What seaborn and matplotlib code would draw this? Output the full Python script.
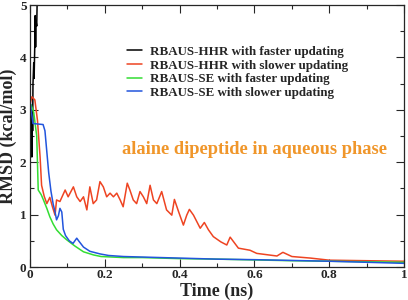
import numpy as np
import pandas as pd
import matplotlib
matplotlib.use('Agg')
import matplotlib.pyplot as plt
from matplotlib.ticker import MultipleLocator
import seaborn as sns

# RBAUS-HHR, faster updating (shoots off the top)
hhr_fast_t = [0.003, 0.004, 0.005, 0.006, 0.007, 0.008, 0.010, 0.011, 0.013, 0.014,
              0.015, 0.016, 0.018, 0.019, 0.021]
hhr_fast_y = [2.9, 2.5, 2.1, 3.0, 2.6, 3.5, 3.9, 3.6, 4.3, 4.8, 4.2, 4.7, 4.6, 5.0, 5.3]

# RBAUS-HHR, slower updating
hhr_slow_t = [0.0, 0.005, 0.013, 0.020, 0.027, 0.031, 0.038, 0.045, 0.053, 0.060, 0.067,
              0.071, 0.080, 0.094, 0.102, 0.116, 0.125, 0.134, 0.143, 0.152, 0.160,
              0.169, 0.178, 0.187, 0.196, 0.205, 0.214, 0.223, 0.232, 0.241, 0.249,
              0.260, 0.267, 0.276, 0.285, 0.294, 0.303, 0.312, 0.321, 0.330, 0.339,
              0.352, 0.365, 0.379, 0.386, 0.397, 0.410, 0.419, 0.426, 0.437, 0.455,
              0.466, 0.477, 0.490, 0.510, 0.526, 0.535, 0.557, 0.588, 0.606, 0.660,
              0.676, 0.700, 0.750, 0.775, 0.800, 0.900, 1.000]
hhr_slow_y = [3.1, 3.25, 3.19, 2.8, 2.1, 1.56, 1.35, 1.21, 1.33, 1.15, 0.99,
              1.28, 1.25, 1.47, 1.34, 1.53, 1.34, 1.25, 1.34, 1.09, 1.53,
              1.21, 1.28, 1.63, 1.53, 1.34, 1.41, 1.34, 1.41, 1.28, 1.15,
              1.60, 1.47, 1.28, 1.21, 1.44, 1.34, 1.21, 1.56, 1.28, 1.21,
              1.44, 1.09, 0.99, 1.29, 1.06, 0.80, 0.99, 1.10, 0.99, 0.74,
              0.85, 0.71, 0.58, 0.48, 0.42, 0.57, 0.36, 0.32, 0.26, 0.21,
              0.28, 0.20, 0.17, 0.15, 0.13, 0.12, 0.11]

# RBAUS-SE, faster updating
se_fast_t = [0.003, 0.010, 0.018, 0.022, 0.030, 0.036, 0.045, 0.053, 0.062, 0.071,
             0.085, 0.098, 0.120, 0.143, 0.170, 0.190, 0.250, 0.300, 0.400, 0.500,
             0.700, 1.000]
se_fast_y = [3.1, 2.95, 2.5, 1.47, 1.38, 1.28, 1.12, 0.96, 0.82, 0.71,
             0.60, 0.52, 0.40, 0.29, 0.23, 0.20, 0.18, 0.18, 0.16, 0.15,
             0.12, 0.09]

# RBAUS-SE, slower updating
se_slow_t = [0.0, 0.004, 0.008, 0.020, 0.035, 0.040, 0.045, 0.050, 0.056, 0.062,
             0.067, 0.071, 0.076, 0.080, 0.085, 0.089, 0.095, 0.105, 0.115, 0.125,
             0.130, 0.143, 0.160, 0.187, 0.210, 0.250, 0.300, 0.400, 0.500, 0.600,
             0.800, 1.000]
se_slow_y = [3.2, 2.95, 2.74, 2.73, 2.72, 2.6, 2.2, 1.8, 1.45, 1.2,
             1.05, 0.9, 0.98, 1.12, 1.05, 0.72, 0.6, 0.5, 0.45, 0.55,
             0.5, 0.38, 0.3, 0.25, 0.22, 0.2, 0.19, 0.17, 0.15, 0.14,
             0.11, 0.07]

labels = ['RBAUS-HHR with faster updating', 'RBAUS-HHR with slower updating',
          'RBAUS-SE with faster updating', 'RBAUS-SE with slower updating']
colors = ['#000000', '#ee4422', '#33dd33', '#2255dd']

frames = []
for lab, t, y in zip(labels, [hhr_fast_t, hhr_slow_t, se_fast_t, se_slow_t],
                     [hhr_fast_y, hhr_slow_y, se_fast_y, se_slow_y]):
    frames.append(pd.DataFrame({'t': t, 'rmsd': y, 'run': lab}))
df = pd.concat(frames, ignore_index=True)

sns.set_style('ticks')
plt.rcParams['font.family'] = ['Liberation Serif', 'DejaVu Serif']
plt.rcParams['font.weight'] = 'bold'

fig = plt.figure(figsize=(4.08, 3.0), dpi=100)
ax = fig.add_axes([0.0735, 0.11, 0.917, 0.873])

sns.lineplot(data=df, x='t', y='rmsd', hue='run', hue_order=labels,
             palette=colors, sort=False, estimator=None, linewidth=1.1, ax=ax)

ax.set_xlim(0, 1)
ax.set_ylim(0, 5)
ax.xaxis.set_major_locator(MultipleLocator(0.2))
ax.xaxis.set_minor_locator(MultipleLocator(0.1))
ax.yaxis.set_major_locator(MultipleLocator(1))
ax.yaxis.set_minor_locator(MultipleLocator(0.5))
ax.set_xticks([0, 0.2, 0.4, 0.6, 0.8, 1.0])
ax.set_xticklabels(['0', '0.2', '0.4', '0.6', '0.8', '1'])
ax.tick_params(which='both', direction='in', top=True, right=True, labelsize=9.5, width=0.8)
ax.tick_params(which='major', length=6)
ax.tick_params(which='minor', length=3)
ax.tick_params(axis='x', pad=1.5)
ax.tick_params(axis='y', pad=2.5)
for lab in ax.get_xticklabels() + ax.get_yticklabels():
    lab.set_fontweight('bold')
for sp in ax.spines.values():
    sp.set_linewidth(0.9)

ax.set_xlabel('Time (ns)', fontsize=13, fontweight='bold')
ax.set_ylabel('RMSD (kcal/mol)', fontsize=13, fontweight='bold')
ax.xaxis.set_label_coords(0.5, -0.06)
ax.yaxis.set_label_coords(-0.034, 0.5)

ax.legend(loc='upper left', bbox_to_anchor=(0.259, 0.845), frameon=False,
          handlelength=1.15, handletextpad=0.6, labelspacing=0.12,
          borderpad=0, borderaxespad=0, prop={'weight': 'bold', 'size': 9.4})

ax.text(0.599, 0.447, 'alaine dipeptide in aqueous phase', transform=ax.transAxes,
        ha='center', va='center', color='#f0962a', fontsize=13.2, fontweight='bold')

fig.savefig('out.png', dpi=100)
